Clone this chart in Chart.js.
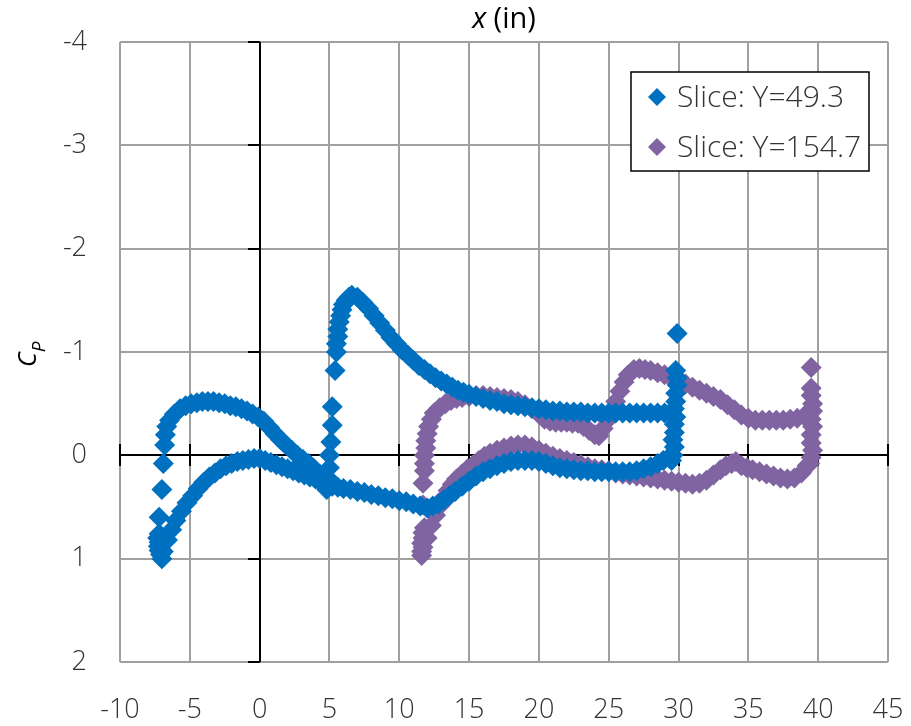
<!DOCTYPE html>
<html>
<head>
<meta charset="utf-8">
<script src="https://cdn.jsdelivr.net/npm/chart.js@4.4.0/dist/chart.umd.min.js"></script>
<style>
  html, body { margin: 0; padding: 0; background: #fff; }
</style>
</head>
<body>
<canvas id="cpChart" width="911" height="726"></canvas>
<script>
// axis ticks
const xTickValues = [-10, -5, 0, 5, 10, 15, 20, 25, 30, 35, 40, 45];
const yTickValues = [-4, -3, -2, -1, 0, 1, 2];

const seriesNames = ["Slice: Y=49.3", "Slice: Y=154.7"];
const seriesColors = ["#0070C0", "#8064A2"];

// Slice Y=49.3, [x, Cp]
const blueNose = [[-7.0,1.0],[-7.1,0.96],[-7.2,0.92],[-7.25,0.88],[-7.2,0.84],[-7.3,0.8],[-7.2,0.76],
  [-7.2,0.6],[-7.0,0.33],[-6.9,0.08],[-6.8,-0.1],[-6.75,-0.2],[-6.65,-0.28]];
const blueUpperFwd = [[-6.45,-0.34],[-6.1,-0.4],[-5.7,-0.45],[-5.3,-0.48],[-4.9,-0.5],[-4.5,-0.51],
  [-4.1,-0.52],[-3.7,-0.52],[-3.3,-0.52],[-2.9,-0.51],[-2.5,-0.5],[-2.1,-0.48],[-1.7,-0.47],
  [-1.3,-0.45],[-0.9,-0.43],[-0.5,-0.4],[-0.1,-0.37],[0.3,-0.33],[0.7,-0.27],[1.1,-0.21],
  [1.5,-0.15],[1.9,-0.1],[2.3,-0.05],[2.7,0.0],[3.1,0.04],[3.5,0.08],[3.9,0.13],[4.3,0.18],
  [4.7,0.24],[5.0,0.3]];
const blueLowerFwd = [[-6.9,0.93],[-6.6,0.82],[-6.3,0.72],[-6.0,0.63],[-5.6,0.54],[-5.2,0.46],
  [-4.8,0.39],[-4.4,0.32],[-4.0,0.26],[-3.6,0.21],[-3.2,0.17],[-2.8,0.13],[-2.4,0.1],[-2.0,0.08],
  [-1.6,0.06],[-1.2,0.05],[-0.8,0.04],[-0.4,0.03],[0.0,0.03],[0.4,0.05],[0.8,0.07],[1.2,0.09],
  [1.6,0.11],[2.0,0.13],[2.4,0.15],[2.8,0.17],[3.2,0.19],[3.6,0.21],[4.0,0.23],[4.4,0.26],
  [4.8,0.28],[5.2,0.3],[5.6,0.31],[6.0,0.32],[6.5,0.33],[7.0,0.35],[7.5,0.36],[8.0,0.38],
  [8.5,0.39],[9.0,0.41],[9.5,0.42],[10.0,0.44],[10.5,0.45],[11.0,0.47],[11.5,0.49],[12.0,0.51]];
const blueMainLE = [[4.8,0.33],[4.9,0.22],[5.0,0.12],[5.0,0.0],[5.1,-0.13],[5.2,-0.29],[5.2,-0.47],
  [5.4,-0.82],[5.5,-1.0],[5.5,-1.08],[5.6,-1.15],[5.6,-1.22],[5.7,-1.29],[5.8,-1.35],[5.9,-1.41],
  [6.0,-1.46],[6.2,-1.5],[6.4,-1.53]];
const blueUpperAft = [[6.6,-1.55],[7.0,-1.53],[7.4,-1.48],[7.8,-1.42],[8.2,-1.35],[8.6,-1.28],
  [9.0,-1.21],[9.4,-1.14],[9.8,-1.08],[10.2,-1.02],[10.6,-0.97],[11.0,-0.92],[11.4,-0.87],
  [11.8,-0.83],[12.2,-0.79],[12.6,-0.75],[13.0,-0.72],[13.4,-0.69],[13.8,-0.66],[14.2,-0.63],
  [14.6,-0.61],[15.0,-0.59],[15.5,-0.57],[16.0,-0.55],[16.5,-0.53],[17.0,-0.52],[17.5,-0.5],
  [18.0,-0.49],[18.5,-0.48],[19.0,-0.47],[19.5,-0.46],[20.0,-0.45],[20.5,-0.44],[21.0,-0.43],
  [21.5,-0.43],[22.0,-0.42],[22.5,-0.42],[23.0,-0.42],[23.5,-0.41],[24.0,-0.41],[24.5,-0.41],
  [25.0,-0.41],[25.5,-0.41],[26.0,-0.41],[26.5,-0.41],[27.0,-0.41],[27.5,-0.41],[28.0,-0.41],
  [28.5,-0.41],[29.0,-0.41],[29.5,-0.42]];
const blueLowerAft = [[12.4,0.49],[12.8,0.47],[13.2,0.43],[13.6,0.39],[14.0,0.35],[14.5,0.3],
  [15.0,0.25],[15.5,0.2],[16.0,0.16],[16.5,0.13],[17.0,0.1],[17.5,0.08],[18.0,0.06],[18.5,0.05],
  [19.0,0.05],[19.5,0.05],[20.0,0.06],[20.5,0.08],[21.0,0.1],[21.5,0.12],[22.0,0.13],[22.5,0.14],
  [23.0,0.15],[23.5,0.15],[24.0,0.16],[24.5,0.16],[25.0,0.16],[25.5,0.16],[26.0,0.16],[26.5,0.16],
  [27.0,0.15],[27.5,0.13],[28.0,0.11],[28.5,0.08],[28.9,0.05],[29.3,0.02]];
const blueTE = [[29.9,-1.18],[29.8,-0.82],[29.9,-0.75],[29.9,-0.68],[29.8,-0.6],[29.8,-0.52],
  [29.7,-0.45],[29.8,-0.37],[29.7,-0.3],[29.7,-0.22],[29.6,-0.15],[29.7,-0.08],[29.6,0.0],[29.5,0.05]];

// Slice Y=154.7
const purpleLE = [[11.6,0.97],[11.6,0.93],[11.7,0.89],[11.6,0.85],[11.7,0.8],[11.7,0.75],[11.8,0.7],
  [11.7,0.48],[11.7,0.27],[11.8,0.15],[11.8,0.08],[11.8,0.0],[11.9,-0.07],[11.9,-0.14],[12.0,-0.21],
  [12.1,-0.28],[12.3,-0.35],[12.5,-0.41]];
const purpleUpper = [[12.9,-0.46],[13.3,-0.5],[13.7,-0.53],[14.1,-0.55],[14.5,-0.56],[15.0,-0.57],
  [15.5,-0.58],[16.0,-0.58],[16.5,-0.57],[17.0,-0.56],[17.5,-0.55],[18.0,-0.54],[18.5,-0.52],
  [19.0,-0.49],[19.5,-0.45],[20.0,-0.4],[20.4,-0.35],[20.8,-0.33],[21.2,-0.32],[21.6,-0.32],
  [22.0,-0.32],[22.4,-0.31],[22.8,-0.31],[23.2,-0.28],[23.6,-0.24],[24.0,-0.2],[24.3,-0.19],
  [24.6,-0.26],[24.9,-0.34],[25.2,-0.42],[25.5,-0.52],[25.8,-0.62],[26.1,-0.71],[26.4,-0.78],
  [26.8,-0.83],[27.2,-0.84],[27.6,-0.83],[28.0,-0.82],[28.5,-0.8],[29.0,-0.78],[29.5,-0.75],
  [30.0,-0.72],[30.5,-0.69],[31.0,-0.66],[31.5,-0.63],[32.0,-0.6],[32.5,-0.57],[33.0,-0.54],
  [33.5,-0.49],[34.0,-0.44],[34.5,-0.39],[35.0,-0.36],[35.5,-0.34],[36.0,-0.34],[36.5,-0.34],
  [37.0,-0.34],[37.5,-0.34],[38.0,-0.35],[38.5,-0.36],[39.0,-0.38],[39.3,-0.4]];
const purpleLower = [[12.0,0.8],[12.3,0.68],[12.6,0.58],[12.9,0.49],[13.2,0.41],[13.5,0.34],
  [13.8,0.28],[14.1,0.23],[14.5,0.18],[14.9,0.13],[15.3,0.09],[15.7,0.05],[16.1,0.01],[16.5,-0.02],
  [17.0,-0.05],[17.5,-0.07],[18.0,-0.09],[18.5,-0.1],[19.0,-0.1],[19.5,-0.08],[20.0,-0.05],
  [20.5,-0.02],[21.0,0.01],[21.5,0.03],[22.0,0.05],[22.5,0.07],[23.0,0.09],[23.5,0.11],[24.0,0.13],
  [24.5,0.14],[25.0,0.15],[25.5,0.17],[26.0,0.18],[26.5,0.19],[27.0,0.2],[27.5,0.21],[28.0,0.22],
  [28.5,0.23],[29.0,0.24],[29.5,0.25],[30.0,0.26],[30.5,0.27],[31.0,0.28],[31.5,0.27],[32.0,0.24],
  [32.5,0.19],[33.0,0.14],[33.4,0.1],[33.8,0.08],[34.1,0.06],[34.5,0.1],[34.9,0.12],[35.3,0.14],
  [35.8,0.16],[36.3,0.18],[36.8,0.2],[37.3,0.22],[37.8,0.23],[38.3,0.22],[38.8,0.17],[39.2,0.1]];
const purpleTE = [[39.5,-0.85],[39.5,-0.65],[39.5,-0.58],[39.6,-0.5],[39.6,-0.43],[39.5,-0.35],
  [39.6,-0.28],[39.5,-0.2],[39.5,-0.12],[39.6,-0.05],[39.5,0.02],[39.4,0.08]];

const toXY = (arr) => arr.map(([x, y]) => ({ x, y }));
const blueData = toXY([].concat(blueNose, blueUpperFwd, blueLowerFwd, blueMainLE, blueUpperAft, blueLowerAft, blueTE));
const purpleData = toXY([].concat(purpleLE, purpleUpper, purpleLower, purpleTE));

const FONT = "'Open Sans', 'Segoe UI', sans-serif";
const TEXT = "#333333";

// black zero axes drawn under the markers
const zeroAxes = {
  id: "zeroAxes",
  beforeDatasetsDraw(chart) {
    const { ctx, chartArea: a, scales: { x, y } } = chart;
    const x0 = Math.round(x.getPixelForValue(0));
    const y0 = Math.round(y.getPixelForValue(0));
    ctx.save();
    ctx.strokeStyle = "#000";
    ctx.lineWidth = 2;
    ctx.beginPath();
    ctx.moveTo(x0, a.top); ctx.lineTo(x0, a.bottom);
    ctx.moveTo(a.left, y0); ctx.lineTo(a.right, y0);
    yTickValues.forEach((v) => {
      const p = Math.round(y.getPixelForValue(v));
      ctx.moveTo(x0 - 12, p); ctx.lineTo(x0, p);
    });
    xTickValues.forEach((v) => {
      const p = Math.round(x.getPixelForValue(v));
      ctx.moveTo(p, y0 - 11); ctx.lineTo(p, y0 + 11);
    });
    ctx.stroke();
    ctx.restore();
  },
};

const labelsAndLegend = {
  id: "labelsAndLegend",
  afterDraw(chart) {
    const { ctx, chartArea: a } = chart;
    ctx.save();
    ctx.fillStyle = "#000";
    ctx.textBaseline = "alphabetic";

    // top axis title: x (in)
    ctx.font = "italic 400 29px " + FONT;
    const w1 = ctx.measureText("x").width;
    ctx.font = "400 29px " + FONT;
    const w2 = ctx.measureText(" (in)").width;
    const tx = (a.left + a.right) / 2 - (w1 + w2) / 2;
    ctx.font = "italic 400 29px " + FONT;
    ctx.fillText("x", tx, 28);
    ctx.font = "400 29px " + FONT;
    ctx.fillText(" (in)", tx + w1, 28);

    // y title: C with subscript P
    ctx.translate(36, 367);
    ctx.rotate(-Math.PI / 2);
    ctx.font = "italic 400 25px " + FONT;
    const cw = ctx.measureText("C").width;
    ctx.fillText("C", 0, 0);
    ctx.font = "italic 400 19px " + FONT;
    ctx.fillText("P", cw, 9);
    ctx.restore();

    // legend box
    const bx = 631, by = 72, bw = 238, bh = 99;
    ctx.save();
    ctx.fillStyle = "#fff";
    ctx.fillRect(bx, by, bw, bh);
    ctx.strokeStyle = "#000";
    ctx.lineWidth = 1.5;
    ctx.strokeRect(bx, by, bw, bh);
    ctx.font = "300 30px " + FONT;
    ctx.textBaseline = "middle";
    chart.data.datasets.forEach((ds, i) => {
      const cy = by + 25 + i * 50;
      const cx = bx + 26;
      ctx.fillStyle = ds.backgroundColor;
      ctx.beginPath();
      ctx.moveTo(cx - 9, cy); ctx.lineTo(cx, cy - 9); ctx.lineTo(cx + 9, cy); ctx.lineTo(cx, cy + 9);
      ctx.closePath();
      ctx.fill();
      ctx.fillStyle = TEXT;
      ctx.fillText(ds.label, bx + 46, cy + 1);
    });
    ctx.restore();
  },
};

new Chart(document.getElementById("cpChart"), {
  type: "scatter",
  data: {
    datasets: [
      { label: seriesNames[0], data: blueData, backgroundColor: seriesColors[0] },
      { label: seriesNames[1], data: purpleData, backgroundColor: seriesColors[1] },
    ],
  },
  options: {
    responsive: false,
    animation: false,
    layout: { padding: { top: 42, right: 23, left: 0, bottom: 0 } },
    elements: {
      point: { pointStyle: "rectRot", radius: 10.5, hoverRadius: 10.5, borderWidth: 0 },
    },
    plugins: {
      legend: { display: false },
      tooltip: { enabled: false },
    },
    scales: {
      x: {
        type: "linear",
        min: -10,
        max: 45,
        afterBuildTicks: (s) => { s.ticks = xTickValues.map((v) => ({ value: v })); },
        afterFit: (s) => { s.height = 64; },
        // invisible tick marks give the label offset without inflating layout padding
        grid: { color: "#a0a0a0", lineWidth: 2, drawTicks: true, tickLength: 32, tickColor: "rgba(0,0,0,0)" },
        border: { display: false },
        ticks: { padding: 0, color: TEXT, font: { family: FONT, size: 27, weight: 300 } },
      },
      y: {
        min: -4,
        max: 2,
        reverse: true,
        afterBuildTicks: (s) => { s.ticks = yTickValues.map((v) => ({ value: v })); },
        afterFit: (s) => { s.width = 120; },
        grid: { color: "#a0a0a0", lineWidth: 2, drawTicks: true, tickLength: 33, tickColor: "rgba(0,0,0,0)" },
        border: { display: false },
        ticks: { padding: 0, color: TEXT, font: { family: FONT, size: 27, weight: 300 } },
      },
    },
  },
  plugins: [zeroAxes, labelsAndLegend],
});
</script>
</body>
</html>
